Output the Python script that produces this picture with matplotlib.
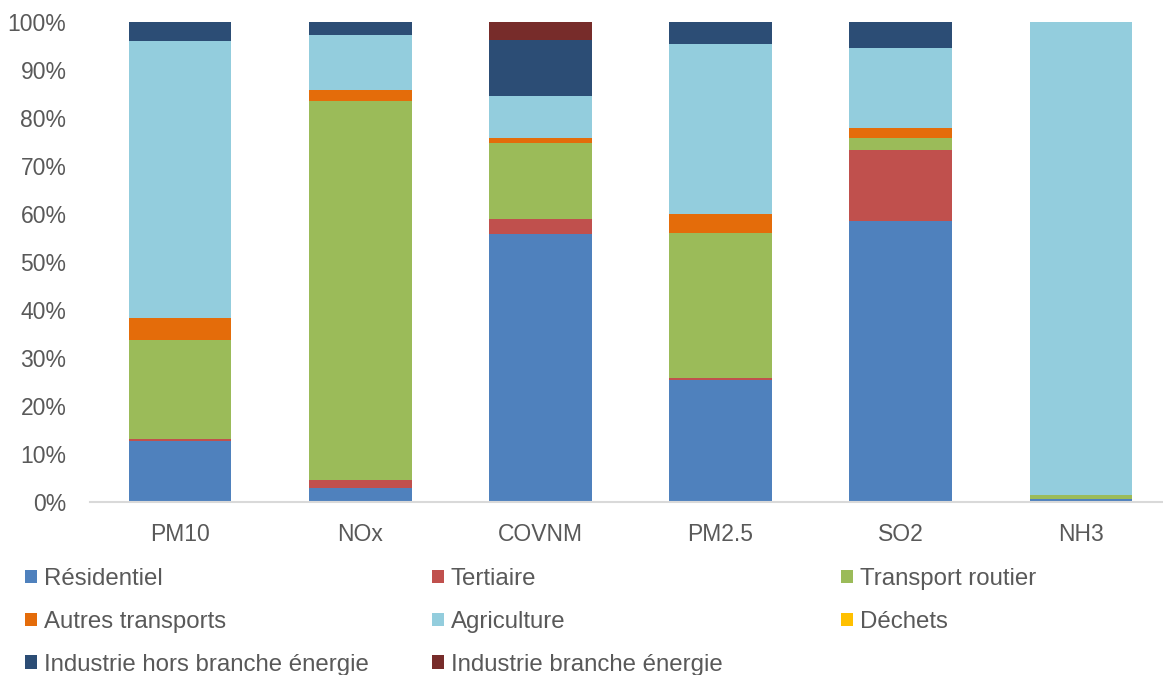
import matplotlib.pyplot as plt
import numpy as np
from matplotlib.patches import Patch
from matplotlib.ticker import PercentFormatter

plt.rcParams['font.family'] = ['Liberation Sans', 'DejaVu Sans']

polluants = ['PM10', 'NOx', 'COVNM', 'PM2.5', 'SO2', 'NH3']
secteurs = ['Résidentiel', 'Tertiaire', 'Transport routier', 'Autres transports',
            'Agriculture', 'Déchets', 'Industrie hors branche énergie',
            'Industrie branche énergie']
couleurs = ['#4F81BD', '#C0504D', '#9BBB59', '#E46C0A',
            '#93CDDD', '#FFC000', '#2C4D75', '#772C2A']

# parts en % par secteur, une valeur par polluant
residentiel = [12.8, 3.0, 55.8, 25.4, 58.5, 0.55]
tertiaire = [0.3, 1.5, 3.2, 0.4, 14.9, 0.05]
transport_routier = [20.6, 79.0, 15.7, 30.3, 2.4, 0.85]
autres_transports = [4.7, 2.3, 1.1, 4.0, 2.1, 0.1]
agriculture = [57.6, 11.5, 8.8, 35.4, 16.6, 98.45]
dechets = [0.0, 0.0, 0.0, 0.0, 0.0, 0.0]
industrie_hors = [4.0, 2.7, 11.6, 4.5, 5.5, 0.0]
industrie_branche = [0.0, 0.0, 3.8, 0.0, 0.0, 0.0]

series = np.array([residentiel, tertiaire, transport_routier, autres_transports,
                   agriculture, dechets, industrie_hors, industrie_branche])
series = series / series.sum(axis=0) * 100

W, H = 1163, 675
fig = plt.figure(figsize=(W / 100, H / 100), dpi=100)
ax = fig.add_axes([90 / W, 1 - 502 / H, 1081 / W, 480 / H])

x = np.arange(len(polluants))
bottom = np.zeros(len(polluants))
handles = []
for vals, nom, c in zip(series, secteurs, couleurs):
    ax.bar(x, vals, 0.57, bottom=bottom, color=c, linewidth=0)
    bottom += vals
    handles.append(Patch(facecolor=c, label=nom))

ax.set_xlim(-0.5, len(polluants) - 0.5)
ax.set_ylim(0, 100)
ax.set_yticks(np.arange(0, 101, 10))
ax.yaxis.set_major_formatter(PercentFormatter(decimals=0))
ax.set_xticks(x, polluants)

for s in ['top', 'right', 'left']:
    ax.spines[s].set_visible(False)
ax.spines['bottom'].set_color('#D9D9D9')
ax.spines['bottom'].set_linewidth(1.5)
ax.tick_params(axis='both', length=0, labelsize=16.5, labelcolor='#595959')
ax.tick_params(axis='x', pad=15)
ax.tick_params(axis='y', pad=17)

# legende en trois colonnes
colonnes = [[0, 3, 6], [1, 4, 7], [2, 5]]
xs = [25, 432, 841]
for col, x0 in zip(colonnes, xs):
    leg = fig.legend([handles[i] for i in col], [secteurs[i] for i in col],
                     loc='upper left', bbox_to_anchor=(x0 / W, 1 - 568 / H),
                     frameon=False, fontsize=17.3, borderpad=0, borderaxespad=0,
                     handlelength=0.5, handleheight=0.5, handletextpad=0.28,
                     labelspacing=0.87)
    for t in leg.get_texts():
        t.set_color('#595959')

fig.savefig('out.png', dpi=100)
